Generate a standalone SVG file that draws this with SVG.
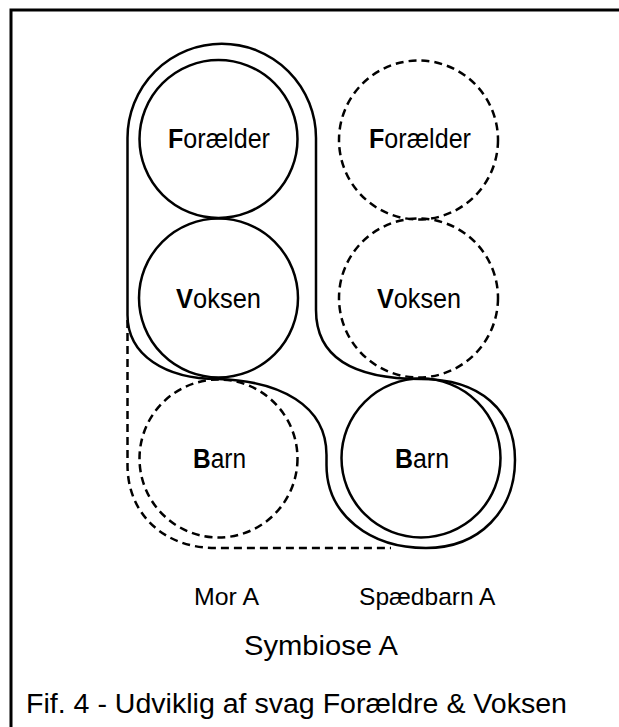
<svg xmlns="http://www.w3.org/2000/svg" width="619" height="727" viewBox="0 0 619 727">
<style>
.solid{fill:none;stroke:#000;stroke-width:2.5}
.dash{fill:none;stroke:#000;stroke-width:2.5;stroke-dasharray:8 5}
.lbl{font-family:"Liberation Sans",Arial,sans-serif;font-size:27px;fill:#000}
.sub{font-family:"Liberation Sans",Arial,sans-serif;font-size:24.5px;fill:#000}
.b{font-weight:bold}
</style>
<rect x="11" y="10" width="700" height="800" fill="#fff" stroke="#000" stroke-width="3"/>
<g id="connectors">
<path id="mor-outline" class="solid" d="M316,310 L316,138 A94.25,94.25 0 0 0 127.5,138 L127.5,315 C127.5,355 165,379 218,379 C280,381 326.5,405 326.5,455 L326.5,465 C326.5,515 370,548 426,548 C480,548 515,510 515,460 C515,410 480,379 421,379 C350,379 316,355 316,310 Z"/>
<path id="mor-dashed" class="dash" d="M127.5,320 L127.5,465 C127.5,515 165,548 215,548 L391,548"/>
</g>
<g id="mor-foraelder"><circle class="solid" cx="218.5" cy="139" r="79"/><text class="lbl" x="168" y="148" textLength="102" lengthAdjust="spacingAndGlyphs"><tspan class="b">F</tspan>orælder</text></g>
<g id="mor-voksen"><circle class="solid" cx="218.5" cy="298" r="79.5"/><text class="lbl" x="176" y="308" textLength="85" lengthAdjust="spacingAndGlyphs"><tspan class="b">V</tspan>oksen</text></g>
<g id="mor-barn"><circle class="dash" cx="218.5" cy="458.5" r="79"/><text class="lbl" x="193" y="467.5" textLength="53" lengthAdjust="spacingAndGlyphs"><tspan class="b">B</tspan>arn</text></g>
<g id="spaed-foraelder"><circle class="dash" cx="418.5" cy="140" r="79.5"/><text class="lbl" x="369" y="148" textLength="102" lengthAdjust="spacingAndGlyphs"><tspan class="b">F</tspan>orælder</text></g>
<g id="spaed-voksen"><circle class="dash" cx="418.5" cy="298" r="79.5"/><text class="lbl" x="377" y="308" textLength="84" lengthAdjust="spacingAndGlyphs"><tspan class="b">V</tspan>oksen</text></g>
<g id="spaed-barn"><circle class="solid" cx="421" cy="458" r="79.5"/><text class="lbl" x="395" y="467.5" textLength="54" lengthAdjust="spacingAndGlyphs"><tspan class="b">B</tspan>arn</text></g>
<g id="labels">
<text class="sub" x="194" y="605" textLength="65" lengthAdjust="spacingAndGlyphs">Mor A</text>
<text class="sub" x="359" y="605" textLength="136.5" lengthAdjust="spacingAndGlyphs">Spædbarn A</text>
<text class="lbl" x="244" y="655" font-size="27" textLength="154" lengthAdjust="spacingAndGlyphs">Symbiose A</text>
<text class="lbl" x="26" y="713" textLength="541" lengthAdjust="spacingAndGlyphs">Fif. 4 - Udviklig af svag Forældre &amp; Voksen</text>
</g>
</svg>
